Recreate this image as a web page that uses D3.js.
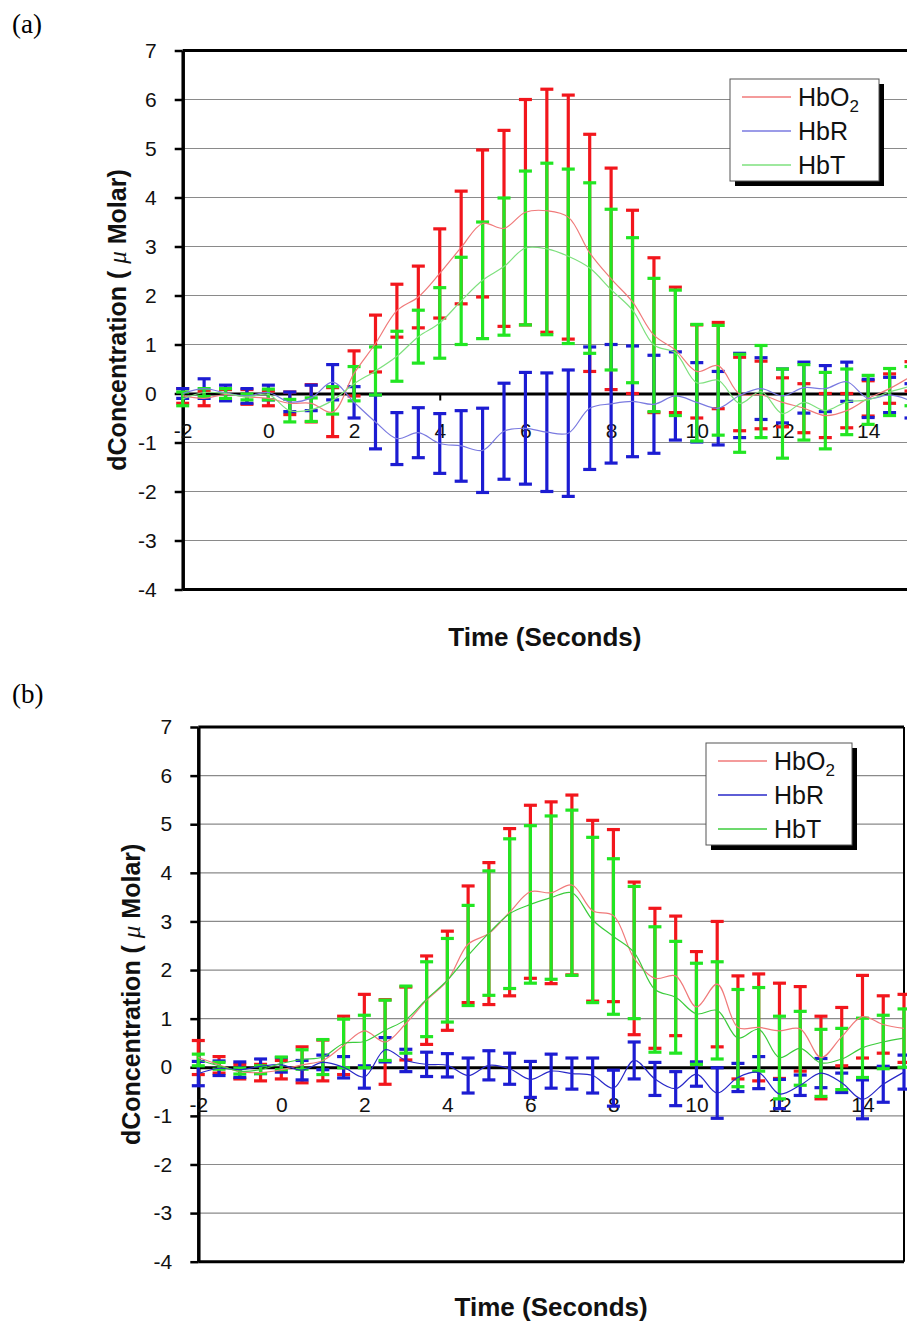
<!DOCTYPE html>
<html>
<head>
<meta charset="utf-8">
<script src="https://cdn.jsdelivr.net/npm/d3@7/dist/d3.min.js"></script>
<style>
  body { margin: 0; background: #fff; }
  svg { display: block; font-family: Arial, "Liberation Sans", sans-serif; }
</style>
</head>
<body>
<div id="chart"></div>
<script>
// time points of the averaged block (seconds)
var times = [-2, -1.5, -1, -0.5, 0, 0.5, 1, 1.5, 2, 2.5, 3, 3.5, 4, 4.5, 5, 5.5, 6, 6.5,
             7, 7.5, 8, 8.5, 9, 9.5, 10, 10.5, 11, 11.5, 12, 12.5, 13, 13.5, 14, 14.5, 15];
var seriesNames = ["HbO2", "HbR", "HbT"];
var xTicks = [-2, 0, 2, 4, 6, 8, 10, 12, 14];
var yTicks = [7, 6, 5, 4, 3, 2, 1, 0, -1, -2, -3, -4];

// panel (a)
var aHbO2 = [-0.05, -0.1, -0.02, -0.07, -0.1, -0.2, -0.2, -0.38, 0.41, 1.02, 1.69, 1.97, 2.45, 2.98, 3.47, 3.37, 3.7, 3.73,
             3.6, 2.87, 2.34, 1.87, 1.19, 0.89, 0.45, 0.57, -0.01, -0.03, -0.18, -0.3, -0.45, -0.35, -0.1, 0.1, 0.35];
var aHbO2Err = [0.15, 0.15, 0.1, 0.15, 0.15, 0.23, 0.38, 0.5, 0.46, 0.58, 0.54, 0.63, 0.91, 1.15, 1.5, 2.0, 2.3, 2.48,
                2.49, 2.42, 2.26, 1.87, 1.58, 1.28, 0.95, 0.88, 0.75, 0.69, 0.5, 0.5, 0.45, 0.35, 0.36, 0.3, 0.3];
var aHbR = [0, 0.1, 0.01, -0.05, 0.02, -0.17, -0.09, 0.23, -0.18, -0.58, -0.92, -0.8, -1.02, -1.07, -1.16, -0.77, -0.71, -0.79,
            -0.81, -0.3, -0.21, -0.16, -0.22, -0.05, -0.18, -0.3, -0.04, 0.1, -0.05, 0.12, 0.1, 0.24, -0.1, -0.03, -0.15];
var aHbRErr = [0.1, 0.2, 0.16, 0.15, 0.15, 0.2, 0.26, 0.36, 0.32, 0.55, 0.53, 0.51, 0.61, 0.72, 0.86, 0.98, 1.14, 1.21,
               1.29, 1.25, 1.21, 1.13, 1.0, 0.9, 0.81, 0.75, 0.86, 0.63, 0.55, 0.52, 0.47, 0.4, 0.39, 0.36, 0.35];
var aHbT = [-0.11, 0.02, 0.0, -0.07, -0.02, -0.35, -0.33, -0.14, 0.2, 0.46, 0.76, 1.16, 1.44, 1.89, 2.31, 2.59, 2.97, 2.95,
            2.8, 2.56, 2.12, 1.7, 0.99, 0.83, 0.22, 0.27, -0.2, 0.04, -0.41, -0.18, -0.35, -0.17, -0.13, 0.03, 0.15];
var aHbTErr = [0.14, 0.08, 0.1, 0.06, 0.11, 0.23, 0.24, 0.28, 0.35, 0.49, 0.51, 0.54, 0.72, 0.89, 1.19, 1.4, 1.57, 1.75,
               1.78, 1.74, 1.64, 1.48, 1.36, 1.28, 1.19, 1.12, 1.0, 0.94, 0.91, 0.77, 0.78, 0.67, 0.5, 0.48, 0.4];

// panel (b)
var bHbO2 = [0.2, 0.05, -0.09, -0.11, -0.05, 0.05, 0.14, 0.45, 0.75, 0.52, 0.9, 1.38, 1.78, 2.53, 2.75, 3.19, 3.61, 3.59,
             3.75, 3.22, 3.12, 2.24, 1.83, 1.88, 1.24, 1.71, 0.82, 0.82, 0.75, 0.79, 0.2, 0.63, 1.04, 0.88, 0.8];
var bHbO2Err = [0.35, 0.17, 0.15, 0.17, 0.19, 0.37, 0.42, 0.6, 0.75, 0.87, 0.75, 0.91, 1.02, 1.2, 1.46, 1.72, 1.78, 1.87,
                1.85, 1.86, 1.77, 1.57, 1.44, 1.23, 1.14, 1.29, 1.06, 1.1, 0.98, 0.87, 0.85, 0.6, 0.85, 0.59, 0.7];
var bHbR = [-0.13, -0.02, -0.05, 0.02, 0.05, -0.06, 0.1, 0.0, -0.2, 0.36, 0.14, 0.06, 0.04, -0.17, 0.04, -0.03, -0.25, -0.08,
            -0.13, -0.17, -0.43, 0.14, -0.24, -0.44, -0.14, -0.53, -0.21, -0.11, -0.55, -0.37, -0.12, -0.32, -0.66, -0.35, -0.1];
var bHbRErr = [0.25, 0.15, 0.16, 0.15, 0.15, 0.2, 0.15, 0.22, 0.23, 0.25, 0.23, 0.25, 0.24, 0.36, 0.3, 0.32, 0.37, 0.35,
               0.32, 0.36, 0.37, 0.38, 0.34, 0.35, 0.25, 0.52, 0.29, 0.33, 0.3, 0.21, 0.3, 0.2, 0.4, 0.37, 0.35];
var bHbT = [0.15, 0.03, -0.08, -0.05, 0.08, 0.16, 0.21, 0.49, 0.53, 0.76, 0.98, 1.4, 1.79, 2.3, 2.76, 3.16, 3.35, 3.49,
            3.59, 3.03, 2.69, 2.36, 1.6, 1.44, 1.1, 1.17, 0.6, 0.78, 0.2, 0.39, 0.09, 0.17, 0.4, 0.52, 0.6];
var bHbTErr = [0.12, 0.07, 0.06, 0.08, 0.13, 0.2, 0.36, 0.5, 0.54, 0.62, 0.69, 0.77, 0.86, 1.03, 1.28, 1.54, 1.62, 1.68,
               1.7, 1.7, 1.6, 1.36, 1.29, 1.15, 1.04, 1.0, 1.0, 0.86, 0.85, 0.76, 0.69, 0.63, 0.61, 0.55, 0.6];

var barColors = ["#f2161c", "#1c1cd2", "#22e622"];

var svg = d3.select("#chart")
    .append("svg")
    .attr("width", 907)
    .attr("height", 1324);

// plain hyphen minus like the original, not the unicode minus d3 uses
var plainNum = function(d) { return String(d); };

function drawPanel(p) {
    var x = d3.scaleLinear().domain([-2, 15]).range([p.left, p.right]);
    var y = d3.scaleLinear().domain([-4, 7]).range([p.bottom, p.top]);
    var g = svg.append("g");

    // panel letter
    g.append("text")
        .attr("x", 12)
        .attr("y", p.letterY)
        .attr("font-family", "'Liberation Serif', 'Times New Roman', serif")
        .attr("font-size", 27)
        .text(p.letter);

    // grid lines
    g.selectAll(".grid")
        .data(yTicks.filter(function(v) { return v !== 7 && v !== -4 && v !== 0; }))
        .enter()
        .append("line")
        .attr("x1", p.left)
        .attr("x2", p.right)
        .attr("y1", function(d) { return y(d); })
        .attr("y2", function(d) { return y(d); })
        .attr("stroke", "#8a8a8a")
        .attr("stroke-width", 1.2);

    // frame: top, bottom, right
    g.append("line").attr("x1", p.left).attr("x2", p.right).attr("y1", y(7)).attr("y2", y(7))
        .attr("stroke", "#000").attr("stroke-width", 3);
    g.append("line").attr("x1", p.left).attr("x2", p.right).attr("y1", y(-4)).attr("y2", y(-4))
        .attr("stroke", "#000").attr("stroke-width", 3);
    g.append("line").attr("x1", p.right).attr("x2", p.right).attr("y1", y(7)).attr("y2", y(-4))
        .attr("stroke", "#000").attr("stroke-width", 2);

    // y axis
    var yAxis = g.append("g")
        .attr("transform", "translate(" + p.left + ",0)")
        .call(d3.axisLeft(y).tickValues(yTicks).tickFormat(plainNum).tickSize(8).tickSizeOuter(0).tickPadding(18));
    yAxis.select(".domain").attr("stroke-width", 3.5);
    yAxis.selectAll(".tick line").attr("stroke-width", 2.5);
    yAxis.selectAll("text").attr("font-size", 21).attr("font-family", "Arial, 'Liberation Sans', sans-serif").attr("fill", "#111");

    // x axis sits on the zero line
    var xAxis = g.append("g")
        .attr("transform", "translate(0," + y(0) + ")")
        .call(d3.axisBottom(x).tickValues(xTicks).tickFormat(plainNum).tickSize(7).tickSizeOuter(0).tickPadding(23));
    xAxis.select(".domain").attr("stroke-width", 3);
    xAxis.selectAll(".tick line").attr("stroke-width", 2);
    xAxis.selectAll("text").attr("font-size", 21).attr("font-family", "Arial, 'Liberation Sans', sans-serif").attr("fill", "#111");

    // error bars, series in order HbO2, HbR, HbT
    p.series.forEach(function(s, si) {
        var pts = times.map(function(t, i) { return {t: t, m: s.mean[i], e: s.err[i]}; });
        var eb = g.append("g")
            .attr("stroke", barColors[si])
            .attr("stroke-width", 3.2);
        eb.selectAll(".bar").data(pts).enter().append("line")
            .attr("x1", function(d) { return x(d.t); })
            .attr("x2", function(d) { return x(d.t); })
            .attr("y1", function(d) { return y(d.m + d.e); })
            .attr("y2", function(d) { return y(d.m - d.e); });
        eb.selectAll(".capTop").data(pts).enter().append("line")
            .attr("x1", function(d) { return x(d.t) - 6.5; })
            .attr("x2", function(d) { return x(d.t) + 6.5; })
            .attr("y1", function(d) { return y(d.m + d.e); })
            .attr("y2", function(d) { return y(d.m + d.e); });
        eb.selectAll(".capBot").data(pts).enter().append("line")
            .attr("x1", function(d) { return x(d.t) - 6.5; })
            .attr("x2", function(d) { return x(d.t) + 6.5; })
            .attr("y1", function(d) { return y(d.m - d.e); })
            .attr("y2", function(d) { return y(d.m - d.e); });
    });

    // mean lines
    var line = d3.line()
        .x(function(d) { return x(d.t); })
        .y(function(d) { return y(d.m); })
        .curve(d3.curveCatmullRom.alpha(0.5));
    p.series.forEach(function(s, si) {
        var pts = times.map(function(t, i) { return {t: t, m: s.mean[i]}; });
        g.append("path")
            .datum(pts)
            .attr("fill", "none")
            .attr("stroke", p.lineColors[si])
            .attr("stroke-width", 1.2)
            .attr("d", line);
    });

    // legend with drop shadow
    var lg = g.append("g").attr("transform", "translate(" + p.legend[0] + "," + p.legend[1] + ")");
    lg.append("rect").attr("x", 5).attr("y", 5).attr("width", p.legend[2]).attr("height", 102).attr("fill", "#000");
    lg.append("rect").attr("x", 0).attr("y", 0).attr("width", p.legend[2]).attr("height", 102)
        .attr("fill", "#fff").attr("stroke", "#555").attr("stroke-width", 1);
    seriesNames.forEach(function(name, i) {
        var ly = 18 + i * 34;
        lg.append("line").attr("x1", 12).attr("x2", 61).attr("y1", ly).attr("y2", ly)
            .attr("stroke", p.lineColors[i]).attr("stroke-width", 1.3);
        var t = lg.append("text").attr("x", 68).attr("y", ly + 9).attr("font-size", 25).attr("fill", "#111");
        if (name === "HbO2") {
            t.append("tspan").text("HbO");
            t.append("tspan").attr("font-size", 17).attr("dy", 6).text("2");
        } else {
            t.text(name);
        }
    });

    // axis titles
    var yt = g.append("text")
        .attr("transform", "translate(" + p.yTitleX + "," + ((p.top + p.bottom) / 2) + ") rotate(-90)")
        .attr("text-anchor", "middle")
        .attr("dy", "0.35em")
        .attr("font-size", 25)
        .attr("font-weight", "bold")
        .attr("fill", "#111");
    yt.append("tspan").text("dConcentration ( ");
    yt.append("tspan").attr("font-family", "'Liberation Serif', serif").attr("font-style", "italic")
        .attr("font-weight", "normal").text("\u03bc");
    yt.append("tspan").text("  Molar)");

    g.append("text")
        .attr("x", (p.left + Math.min(p.right, 907)) / 2)
        .attr("y", p.xTitleY)
        .attr("text-anchor", "middle")
        .attr("dy", "0.35em")
        .attr("font-size", 26)
        .attr("font-weight", "bold")
        .attr("fill", "#111")
        .text("Time (Seconds)");
}

drawPanel({
    letter: "(a)", letterY: 33,
    left: 182.7, right: 911, top: 50.5, bottom: 589.5,
    yTitleX: 117, xTitleY: 637,
    legend: [730, 79, 149],
    lineColors: ["#f07a7a", "#7a7ae0", "#7ee07e"],
    series: [
        {mean: aHbO2, err: aHbO2Err},
        {mean: aHbR, err: aHbRErr},
        {mean: aHbT, err: aHbTErr}
    ]
});

drawPanel({
    letter: "(b)", letterY: 703,
    left: 198.3, right: 904, top: 727, bottom: 1261.7,
    yTitleX: 131, xTitleY: 1307,
    legend: [706, 743, 146],
    lineColors: ["#f07a7a", "#2828c8", "#3ccc3c"],
    series: [
        {mean: bHbO2, err: bHbO2Err},
        {mean: bHbR, err: bHbRErr},
        {mean: bHbT, err: bHbTErr}
    ]
});
</script>
</body>
</html>
